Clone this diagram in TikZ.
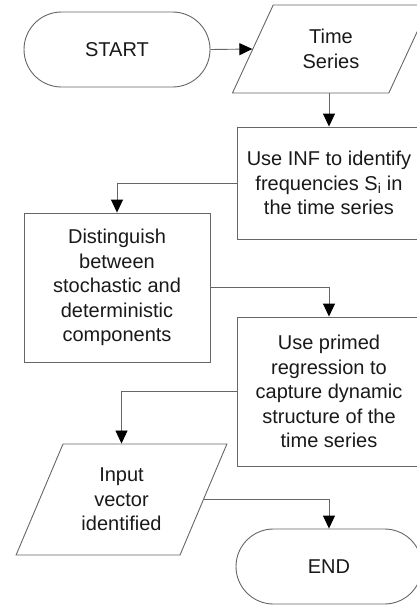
\documentclass[tikz,border=0pt]{standalone}
\usepackage{fontspec}
\setmainfont{Liberation Sans}
\usetikzlibrary{arrows.meta, shapes.geometric, shapes.misc}

\begin{document}
\begin{tikzpicture}[x=1pt,y=-1pt,
  line/.style={draw=black!60, line width=0.9pt},
  arr/.style={line, -{Triangle[length=13pt,width=12pt,color=black]}},
  txt/.style={font=\fontsize{20}{24.5}\selectfont, text=black!90, align=center, inner sep=0pt},
  terminal/.style={rounded rectangle, line, txt, minimum width=186pt, minimum height=75pt},
  io/.style={trapezium, trapezium left angle=63, trapezium right angle=117,
    trapezium stretches=true, line, txt},
  process/.style={rectangle, line, txt, minimum width=184pt}]
\useasboundingbox (0,0) rectangle (416,608);

% blocks
\node[terminal] (start) at (117,49.5) {START};
\node[io, minimum width=198pt, minimum height=88pt] (series) at (331,49) {Time\\Series};
\node[process, minimum height=112pt] (inf) at (329,183) {Use INF to identify\\frequencies S\textsubscript{i} in\\the time series};
\node[process, minimum width=186pt, minimum height=149pt] (dist) at (117,287.5) {Distinguish\\between\\stochastic and\\deterministic\\components};
\node[process, minimum height=149pt] (regr) at (329,391.5) {Use primed\\regression to\\capture dynamic\\structure of the\\time series};
\node[io, minimum width=211pt, minimum height=111pt] (input) at (121.5,499.5) {Input\\vector\\identified};
\node[terminal] (end) at (329,566.5) {END};

% connectors
\draw[arr] (start.east) -- (series.west);
\draw[arr] (series.south -| inf.north) -- (inf.north);
\draw[arr] (inf.west) -| (dist.north);
\draw[arr] (dist.east) -| (regr.north);
\draw[arr] (regr.west) -| (input.north -| input.center);
\draw[arr] (input.east) -| (end.north);
\end{tikzpicture}
\end{document}
